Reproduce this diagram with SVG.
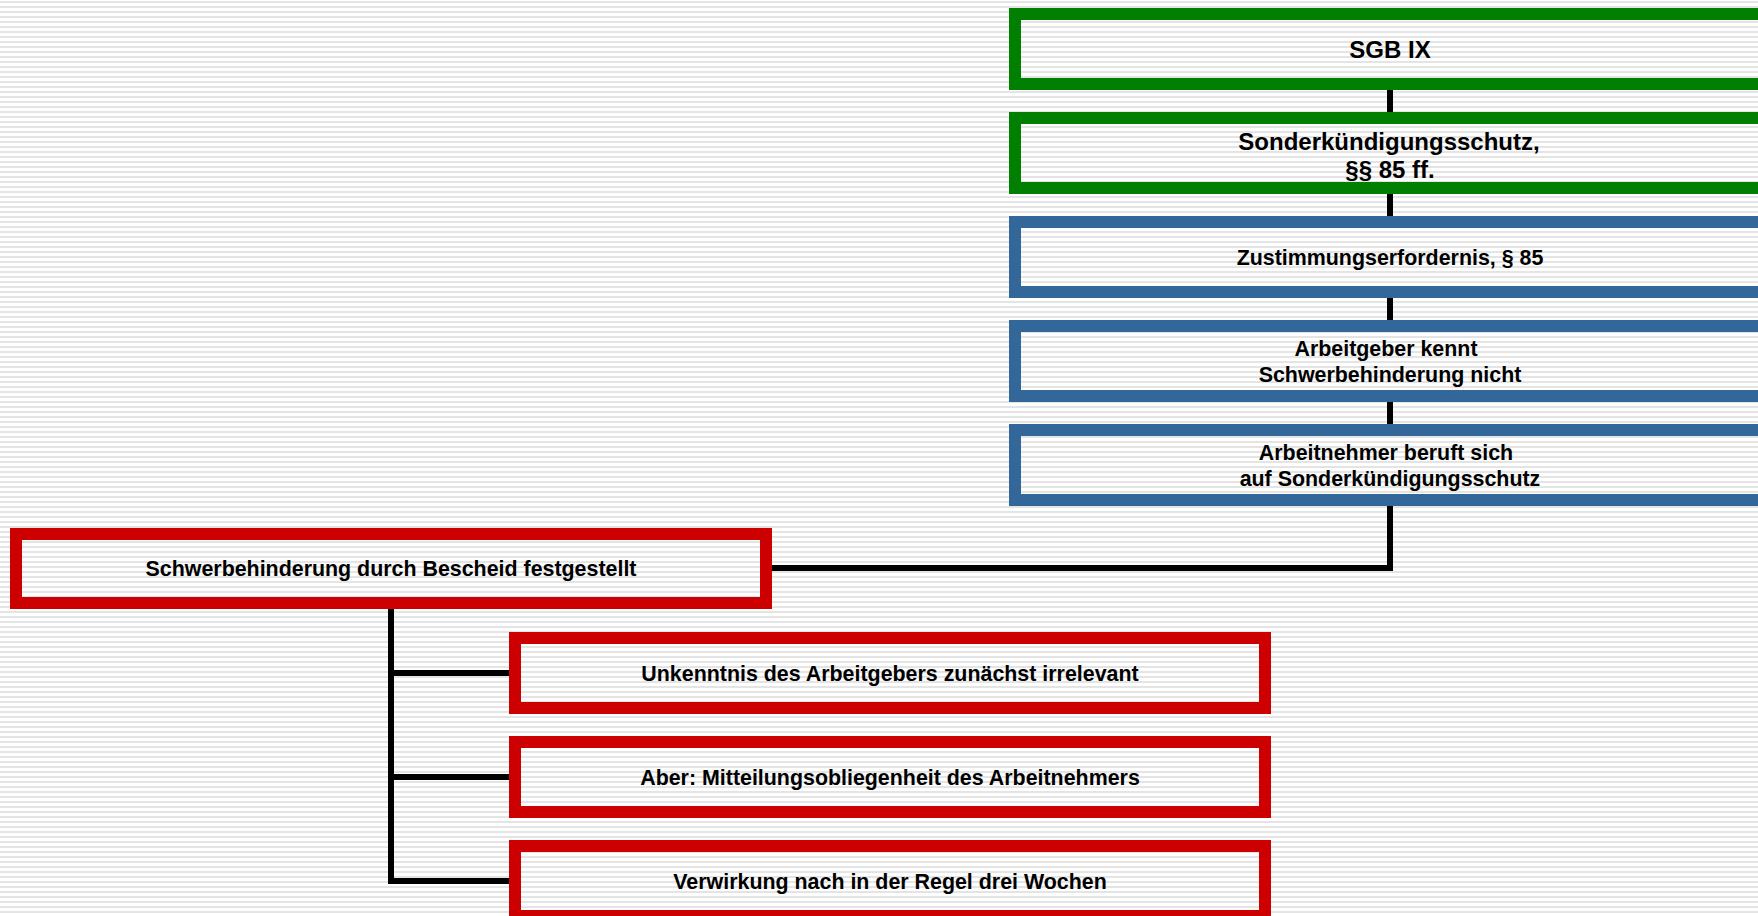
<svg xmlns="http://www.w3.org/2000/svg" width="1758" height="916" viewBox="0 0 1758 916">
<defs>
<pattern id="stripes" x="0" y="0" width="10" height="5" patternUnits="userSpaceOnUse">
<rect x="0" y="0" width="10" height="5" fill="#ffffff"/>
<rect x="0" y="1" width="10" height="2" fill="#e4e4e4"/>
</pattern>
</defs>
<style>
.box{fill:none;stroke-width:12}
.green{stroke:#007f00}
.blue{stroke:#336699}
.red{stroke:#cc0000}
.t{font-family:"Liberation Sans",Arial,sans-serif;font-weight:bold;fill:#000;text-anchor:middle}
.t24{font-size:24px}
.t21{font-size:21.4px}
.conn{fill:none;stroke:#000;stroke-width:6}
</style>
<rect x="0" y="0" width="1758" height="916" fill="url(#stripes)"/>
<g id="connectors">
<path class="conn" d="M1390 90V112M1390 194V216M1390 298V320M1390 402V424M1390 506V568H772"/>
<path class="conn" d="M391 609V881H509M391 673H509M391 777H509"/>
</g>
<g id="n-sgb">
<rect class="box green" x="1015" y="14" width="750" height="70"/>
<text class="t t24" x="1390" y="57.5">SGB IX</text>
</g>
<g id="n-sonder">
<rect class="box green" x="1015" y="118" width="750" height="70"/>
<text class="t t24" x="1389" y="149.5">Sonderkündigungsschutz,</text>
<text class="t t24" x="1390" y="177.5">§§ 85 ff.</text>
</g>
<g id="n-zustimmung">
<rect class="box blue" x="1015" y="222" width="750" height="70"/>
<text class="t t21" x="1390" y="265">Zustimmungserfordernis, § 85</text>
</g>
<g id="n-kennt">
<rect class="box blue" x="1015" y="326" width="750" height="70"/>
<text class="t t21" x="1386" y="356">Arbeitgeber kennt</text>
<text class="t t21" x="1390" y="382">Schwerbehinderung nicht</text>
</g>
<g id="n-beruft">
<rect class="box blue" x="1015" y="430" width="750" height="70"/>
<text class="t t21" x="1386" y="460">Arbeitnehmer beruft sich</text>
<text class="t t21" x="1390" y="486">auf Sonderkündigungsschutz</text>
</g>
<g id="n-bescheid">
<rect class="box red" x="16" y="534" width="750" height="69"/>
<text class="t t21" x="391" y="576">Schwerbehinderung durch Bescheid festgestellt</text>
</g>
<g id="n-unkenntnis">
<rect class="box red" x="515" y="638" width="750" height="70"/>
<text class="t t21" x="890" y="681">Unkenntnis des Arbeitgebers zunächst irrelevant</text>
</g>
<g id="n-mitteilung">
<rect class="box red" x="515" y="742" width="750" height="70"/>
<text class="t t21" x="890" y="785">Aber: Mitteilungsobliegenheit des Arbeitnehmers</text>
</g>
<g id="n-verwirkung">
<rect class="box red" x="515" y="846" width="750" height="70"/>
<text class="t t21" x="890" y="889">Verwirkung nach in der Regel drei Wochen</text>
</g>
</svg>
